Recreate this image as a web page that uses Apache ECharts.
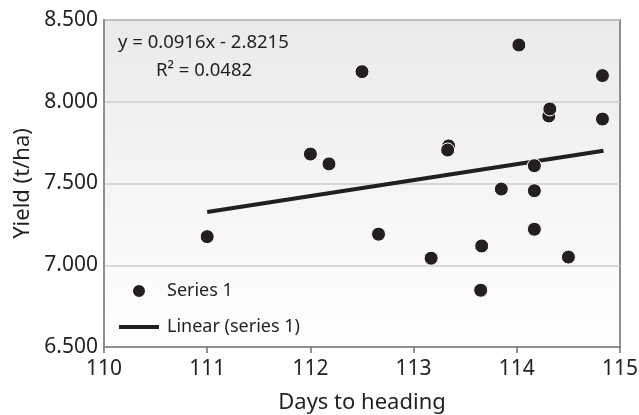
<!DOCTYPE html>
<html>
<head>
<meta charset="utf-8">
<script src="https://cdn.jsdelivr.net/npm/echarts@6/dist/echarts.min.js"></script>
<style>
  html, body { margin: 0; padding: 0; background: #fff; }
  #main { width: 639px; height: 415px; }
</style>
</head>
<body>
<div id="main"></div>
<script>
// days to heading / yield
var days = [111.0, 112.0, 112.18, 112.5, 112.66, 113.17, 113.34, 113.33, 113.65, 113.66,
            113.85, 114.02, 114.17, 114.17, 114.17, 114.31, 114.32, 114.5, 114.83, 114.83];
var yields = [7.175, 7.68, 7.62, 8.184, 7.19, 7.043, 7.73, 7.705, 6.847, 7.118,
              7.466, 8.347, 7.609, 7.456, 7.22, 7.913, 7.956, 7.05, 8.16, 7.894];
// trend line ends as drawn in the picture
var trendDays = [111.0, 114.84];
var trendYields = [7.326, 7.70];
var slope = 0.0916;
var intercept = -2.8215;
var r2 = 0.0482;
var xTicks = [110, 111, 112, 113, 114, 115];
var yTicks = [6.5, 7.0, 7.5, 8.0, 8.5];

var FONT = 'Noto Sans';
var INK = '#231f20';

var points = days.map(function (d, i) { return [d, yields[i]]; });
var fit = trendDays.map(function (d, i) { return [d, trendYields[i]]; });

var chart = echarts.init(document.getElementById('main'));
var option = {
  animation: false,
  textStyle: { fontFamily: FONT, color: INK },
  grid: {
    left: 104, top: 20, right: 19, bottom: 68,
    outerBoundsMode: 'none',
    containLabel: false,
    show: true,
    borderColor: '#8f8f8f',
    borderWidth: 2,
    backgroundColor: {
      type: 'linear', x: 0, y: 0, x2: 0, y2: 1,
      colorStops: [{ offset: 0, color: '#e9eaec' }, { offset: 1, color: '#ffffff' }]
    }
  },
  xAxis: {
    type: 'value',
    min: xTicks[0], max: xTicks[xTicks.length - 1], interval: 1,
    name: 'Days to heading',
    nameLocation: 'middle',
    nameGap: 45,
    nameTextStyle: { fontFamily: FONT, fontSize: 22, color: INK },
    axisLine: { show: true, lineStyle: { color: '#8f8f8f', width: 2 } },
    axisTick: { show: true, inside: false, length: 6, lineStyle: { color: '#6f6f6f', width: 1.5 } },
    axisLabel: { fontFamily: FONT, fontSize: 21, color: INK, margin: 12 },
    splitLine: { show: false }
  },
  yAxis: {
    type: 'value',
    min: yTicks[0], max: yTicks[yTicks.length - 1], interval: 0.5,
    name: 'Yield (t/ha)',
    nameLocation: 'middle',
    nameGap: 67,
    nameTextStyle: { fontFamily: FONT, fontSize: 22, color: INK },
    axisLine: { show: true, lineStyle: { color: '#8f8f8f', width: 2 } },
    axisTick: { show: false },
    axisLabel: {
      fontFamily: FONT, fontSize: 21, color: INK, margin: 6,
      formatter: function (v) { return v.toFixed(3); }
    },
    splitLine: { show: true, lineStyle: { color: '#cdcdcd', width: 1.5 } }
  },
  legend: {
    orient: 'vertical',
    left: 114, top: 277,
    itemWidth: 40, itemHeight: 14,
    itemGap: 18,
    textStyle: { fontFamily: FONT, fontSize: 18, color: INK, padding: [0, 0, 0, 3] },
    data: [
      { name: 'Series 1', icon: 'circle' },
      { name: 'Linear (series 1)', icon: 'path://M0,0L40,0L40,4L0,4Z' }
    ]
  },
  graphic: [
    {
      type: 'text', left: 118, top: 33,
      style: { text: 'y = ' + slope + 'x - ' + Math.abs(intercept), font: '18.5px "Noto Sans"', fill: INK }
    },
    {
      type: 'text', left: 156, top: 61,
      style: { text: 'R\u00b2 = ' + r2, font: '18.5px "Noto Sans"', fill: INK }
    }
  ],
  series: [
    {
      name: 'Series 1',
      type: 'scatter',
      data: points,
      symbol: 'circle',
      symbolSize: 14,
      itemStyle: { color: INK, borderColor: '#ffffff', borderWidth: 1, opacity: 1 },
      z: 3
    },
    {
      name: 'Linear (series 1)',
      type: 'line',
      data: fit,
      symbol: 'none',
      lineStyle: { color: INK, width: 4 },
      itemStyle: { color: INK },
      z: 2
    }
  ]
};
chart.setOption(option);
</script>
</body>
</html>
